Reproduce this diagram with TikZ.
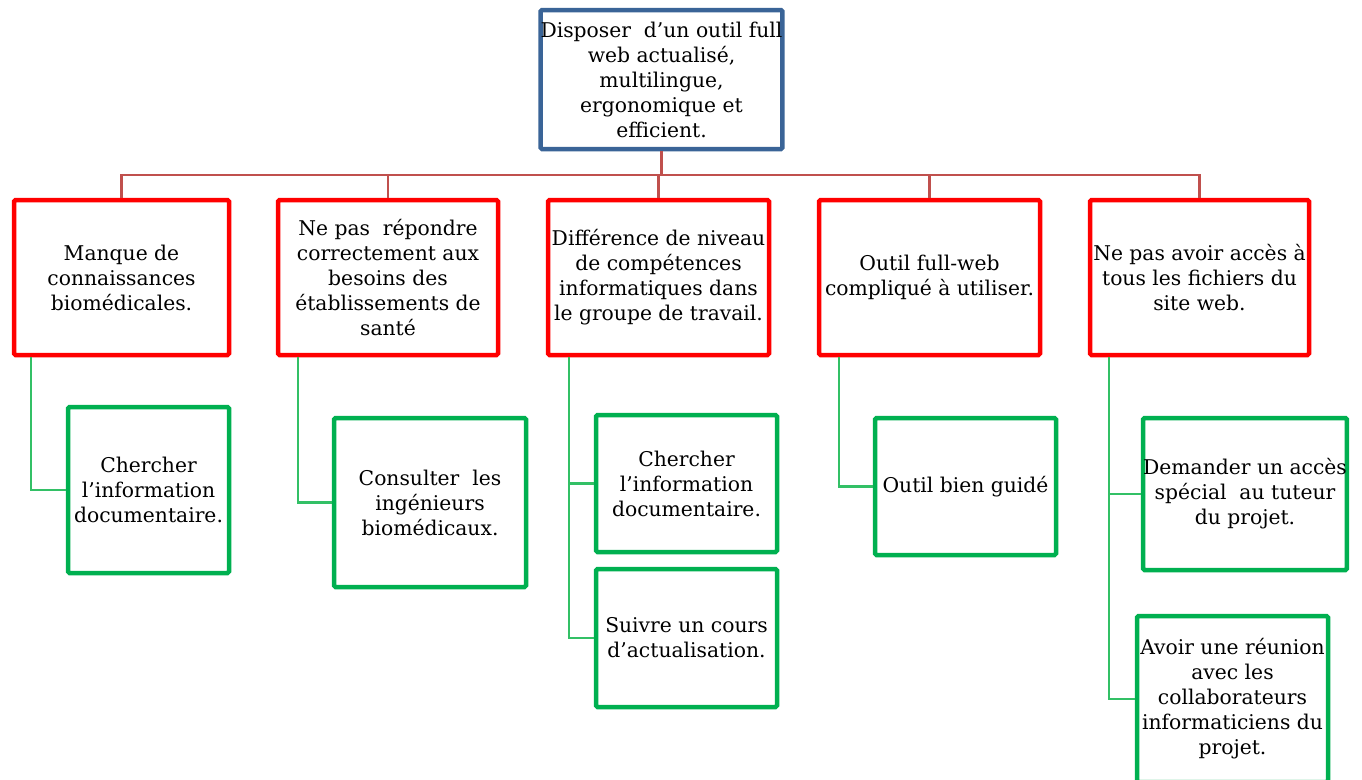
\documentclass[tikz,border=0pt]{standalone}
\usepackage{fontspec}
\setmainfont{DejaVu Serif}
\definecolor{topblue}{HTML}{3A6497}
\definecolor{redbox}{HTML}{FF0000}
\definecolor{greenbox}{HTML}{00B050}
\definecolor{redline}{HTML}{C0504D}
\definecolor{greenline}{HTML}{33C066}
\begin{document}
\begin{tikzpicture}[x=1pt,y=-1pt,
  box/.style={draw, line width=4.5pt, rounded corners=1.5pt, align=center, inner sep=0pt,
    font=\fontsize{20.3}{25}\selectfont},
  topbox/.style={box, draw=topblue},
  cause/.style={box, draw=redbox, minimum height=155},
  remedy/.style={box, draw=greenbox},
  rlink/.style={draw=redline, line width=2.3pt},
  glink/.style={draw=greenline, line width=2.3pt}]
\useasboundingbox (0,0) rectangle (1362,779);
\clip (0,0) rectangle (1362,779);
\fill[white] (0,0) rectangle (1362,779);

\node[topbox, minimum width=239, minimum height=139] (top) at (661.5,79.5)
  {Disposer\ \ d’un outil full\\ web actualisé,\\ multilingue,\\ ergonomique et\\ efficient.};

\node[cause, minimum width=215] (c1) at (121.5,277.5) {Manque de\\connaissances\\biomédicales.};
\node[cause, minimum width=220] (c2) at (388,277.5) {Ne pas\ \ répondre\\correctement aux\\besoins des\\établissements de\\santé};
\node[cause, minimum width=221] (c3) at (658.5,277.5) {Différence de niveau\\de compétences\\informatiques dans\\le groupe de travail.};
\node[cause, minimum width=221] (c4) at (929.5,277.5) {Outil full-web\\compliqué à utiliser.};
\node[cause, minimum width=219] (c5) at (1199.5,277.5) {Ne pas avoir accès à\\tous les fichiers du\\site web.};

\node[remedy, minimum width=161, minimum height=166] (g1) at (148.5,490) {Chercher\\l’information\\documentaire.};
\node[remedy, minimum width=192, minimum height=169] (g2) at (430,502.5) {Consulter\ \ les\\ingénieurs\\biomédicaux.};
\node[remedy, minimum width=181, minimum height=137] (g3a) at (686.5,483.5) {Chercher\\l’information\\documentaire.};
\node[remedy, minimum width=181, minimum height=138] (g3b) at (686.5,638) {Suivre un cours\\d’actualisation.};
\node[remedy, minimum width=181, minimum height=137] (g4) at (965.5,486.5) {Outil bien guidé};
\node[remedy, minimum width=200, minimum height=152] (g5a) at (1245,494) {Demander un accès\\spécial\ \ au tuteur\\du projet.};
\node[remedy, minimum width=191, minimum height=166] (g5b) at (1232.5,699) {Avoir une réunion\\avec les\\collaborateurs\\informaticiens du\\projet.};

\draw[rlink] (top.south) -- ++(0,24) coordinate (j);
\foreach \c in {c1,c2,c3,c4,c5} { \draw[rlink] (j) -| (\c.north); }

\draw[glink] ([xshift=19]c1.south west) |- (g1.west);
\draw[glink] ([xshift=22]c2.south west) |- (g2.west);
\draw[glink] ([xshift=23]c3.south west) |- (g3a.west);
\draw[glink] ([xshift=23]c3.south west) |- (g3b.west);
\draw[glink] ([xshift=22]c4.south west) |- (g4.west);
\draw[glink] ([xshift=21]c5.south west) |- (g5a.west);
\draw[glink] ([xshift=21]c5.south west) |- (g5b.west);
\end{tikzpicture}
\end{document}
